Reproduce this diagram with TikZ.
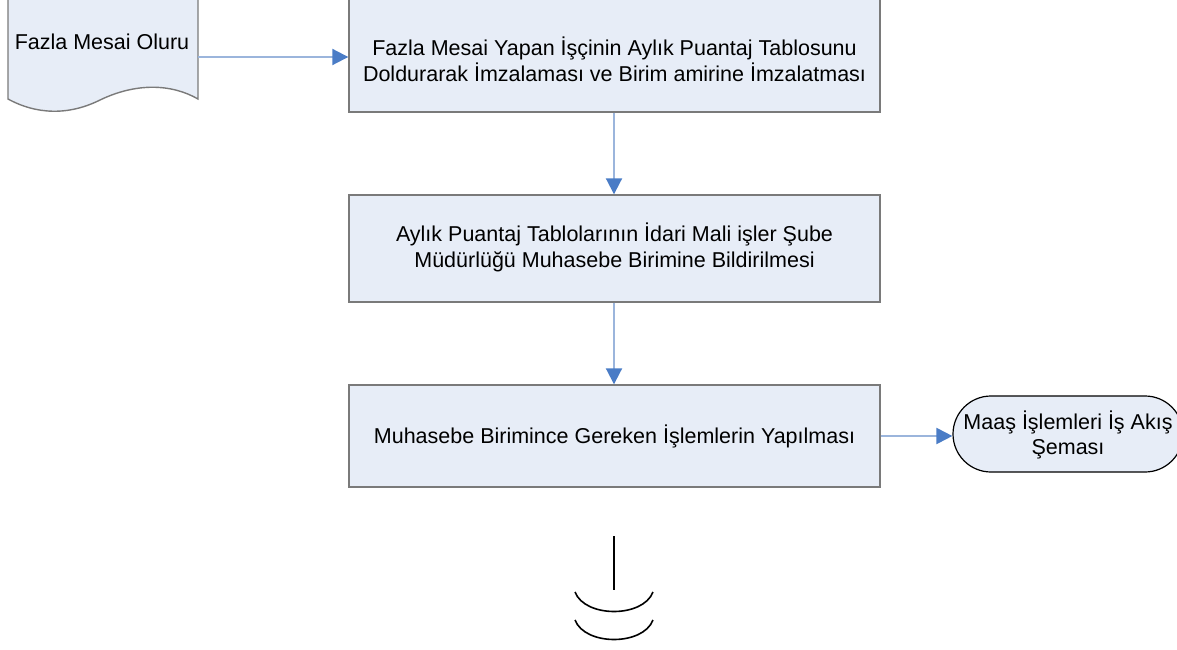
\documentclass[tikz,border=0pt]{standalone}
\usepackage{fontspec}
\setmainfont{Liberation Sans}
\usetikzlibrary{arrows.meta}
\definecolor{boxfill}{HTML}{E7EDF7}
\definecolor{boxline}{HTML}{7A7A7A}
\definecolor{conline}{HTML}{9BB5DC}
\definecolor{tipblue}{HTML}{4A7CC6}
\tikzset{
  procbox/.style={draw=boxline, fill=boxfill, line width=1.4pt, minimum width=531pt, inner sep=0pt},
  txt/.style={align=center, font=\fontsize{21.5}{25.5}\selectfont, inner sep=0pt},
  conn/.style={draw=conline, line width=2pt, -{Triangle[length=16pt,width=16pt,color=tipblue]}},
  term/.style={draw=black, fill=boxfill, line width=1.2pt, rounded corners=38pt, minimum width=230pt, minimum height=76pt, inner sep=0pt},
  breakline/.style={draw=black, line width=1.6pt}
}
\begin{document}
\begin{tikzpicture}[x=1pt,y=-1pt]
\useasboundingbox (0,0) rectangle (1177,650);
% document shape
\path[draw=boxline, fill=boxfill, line width=1.4pt] (8,-5) -- (8,99) .. controls (28,110) and (60,119) .. (98,101) .. controls (136,82) and (172,84) .. (198,99) -- (198,-5);
\node[txt] (doc) at (102,42) {Fazla Mesai Oluru};
\coordinate (docR) at (198,57);
% boxes
\node[procbox, minimum height=117pt] (b1) at (614.5,53.5) {};
\node[txt] (t1) at (614.5,59.5) {Fazla Mesai Yapan İşçinin Aylık Puantaj Tablosunu\\Doldurarak İmzalaması ve Birim amirine İmzalatması};
\node[procbox, minimum height=107pt] (b2) at (614.5,248.5) {};
\node[txt] (t2) at (614.5,247.5) {Aylık Puantaj Tablolarının İdari Mali işler Şube\\Müdürlüğü Muhasebe Birimine Bildirilmesi};
\node[procbox, minimum height=102pt] (b3) at (614.5,436) {};
\node[txt] (t3) at (614.5,436) {Muhasebe Birimince Gereken İşlemlerin Yapılması};
\node[term] (t) at (1068,434) {};
\node[txt] (tt) at (1068,435) {Maaş İşlemleri İş Akış\\Şeması};
% connectors
\draw[conn] (docR) -- (docR -| b1.west);
\draw[conn] (b1.south -| 614,0) -- (b2.north -| 614,0);
\draw[conn] (b2.south -| 614,0) -- (b3.north -| 614,0);
\draw[conn] (b3.east |- 0,436) -- (t.west |- 0,436);
% break symbol
\coordinate (l1) at (614,536);
\coordinate (l2) at (614,590);
\draw[breakline] (l1) -- (l2);
\draw[breakline] (575,592) .. controls (585,618) and (643,618) .. (653,592);
\draw[breakline] (575,620) .. controls (585,646) and (643,646) .. (653,620);
\end{tikzpicture}
\end{document}
